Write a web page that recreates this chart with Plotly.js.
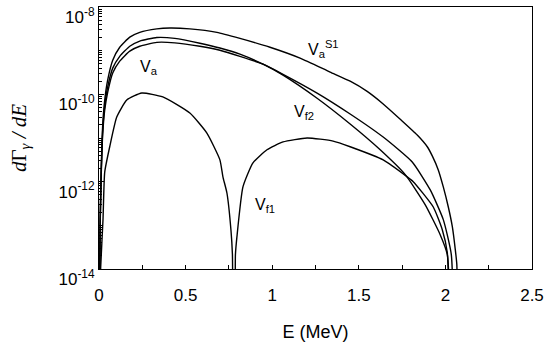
<!DOCTYPE html>
<html>
<head>
<meta charset="utf-8">
<script src="https://cdn.plot.ly/plotly-3.0.1.min.js"></script>
<style>html,body{margin:0;padding:0;background:#fff;}#chart{width:545px;height:342px;}</style>
</head>
<body>
<div id="chart"></div>
<script>
// Photon energy E (MeV) and dGamma/dE values
const E_VaS1 = [0.002,0.0069,0.0127,0.0214,0.033,0.0503,0.0792,0.1197,0.1776,0.2354,0.3337,0.4089,0.5246,0.6808,0.8138,0.9873,1.1608,1.3343,1.45,1.5483,1.6408,1.7392,1.8375,1.8953,1.9242,1.9589,1.9879,2.0168,2.04,2.0573,2.066,2.072];
const G_VaS1 = [1e-15,1.35e-13,1.86e-12,2.0e-11,7.41e-11,2.14e-10,6.03e-10,1.2e-9,2.04e-9,2.63e-9,3.16e-9,3.31e-9,3.16e-9,2.63e-9,1.91e-9,1.2e-9,6.76e-10,3.24e-10,2.0e-10,1.17e-10,6.03e-11,2.69e-11,1.17e-11,6.31e-12,3.89e-12,1.86e-12,7.59e-13,2.63e-13,9.3e-14,2.75e-14,1.26e-14,1e-16];

const E_Va = [0.002,0.0069,0.0127,0.0214,0.033,0.0503,0.0792,0.1197,0.1776,0.2354,0.3337,0.4378,0.5824,0.6981,0.8138,0.9468,1.0625,1.2591,1.45,1.6235,1.7681,1.8838,1.9705,2.011,2.0313];
const G_Va = [1e-15,1.2e-13,1.58e-12,1.51e-11,5.37e-11,1.48e-10,3.98e-10,7.41e-10,1.26e-9,1.66e-9,2.0e-9,1.91e-9,1.48e-9,1.15e-9,8.32e-10,4.9e-10,2.75e-10,8.13e-11,2.09e-11,5.37e-12,1.45e-12,2.95e-13,6.03e-14,2.14e-14,1e-16];

const E_Vf2 = [0.002,0.0069,0.0127,0.0214,0.033,0.0503,0.0792,0.1197,0.1776,0.2354,0.3337,0.4378,0.5824,0.6981,0.8138,0.9468,1.0625,1.2591,1.45,1.6408,1.8085,1.9126,1.9878,2.0341,2.0486];
const G_Vf2 = [1e-15,1.1e-13,1.35e-12,1.23e-11,4.37e-11,1.12e-10,3.09e-10,5.75e-10,9.77e-10,1.26e-9,1.55e-9,1.51e-9,1.26e-9,1.02e-9,7.41e-10,4.9e-10,2.88e-10,1.07e-10,3.55e-11,1.05e-11,2.82e-12,6.46e-13,1.35e-13,2.14e-14,1e-16];

const E_Vf1 = [0.003,0.0098,0.0231,0.033,0.0619,0.1024,0.1602,0.247,0.3684,0.5246,0.6229,0.6981,0.7155,0.7386,0.7617,0.7704,0.778,0.782,0.7877,0.7964,0.8311,0.8889,0.97,1.0625,1.2013,1.3517,1.45,1.6408,1.7796,1.8143,1.93,1.982,2.011,2.0255];
const G_Vf1 = [1e-15,1.12e-14,1.35e-13,1.66e-12,6.31e-12,3.02e-11,7.41e-11,1.07e-10,8.71e-11,3.72e-11,1.29e-11,3.16e-12,1.29e-12,5.5e-13,7.94e-14,2.14e-14,1e-16,1e-16,2.14e-14,5.5e-14,7.59e-13,2.69e-12,5.37e-12,8.13e-12,1.0e-11,8.51e-12,6.31e-12,3.16e-12,1.29e-12,1.0e-12,2.63e-13,7.94e-14,2.34e-14,1e-16];

// Axis ticks
const yTickVals = [1e-14,1e-12,1e-10,1e-8];
const yTickText = ['10<sup>-14</sup>','10<sup>-12</sup>','10<sup>-10</sup>','10<sup>-8</sup>'];
const yMinorVals = [];
[-14,-13,-12,-11,-10,-9].forEach(k => { for (let m = (k % 2 === 0 ? 2 : 1); m <= 9; m++) yMinorVals.push(m * Math.pow(10, k)); });

// Curve labels: [x (MeV), log10 y, text]
const labels = [
  [0.2244, -9.378, 'V<sub>a</sub>'],
  [1.1955, -8.966, 'V<sub>a</sub><sup>S1</sup>'],
  [1.1145, -10.406, 'V<sub>f2</sub>'],
  [0.889, -12.553, 'V<sub>f1</sub>']
];

const lineStyle = {color: '#000', width: 1.4, shape: 'spline', smoothing: 0.5};
const traces = [
  {x: E_VaS1, y: G_VaS1},
  {x: E_Va, y: G_Va},
  {x: E_Vf2, y: G_Vf2},
  {x: E_Vf1, y: G_Vf1}
].map(t => Object.assign(t, {type: 'scatter', mode: 'lines', line: lineStyle, hoverinfo: 'skip', showlegend: false, cliponaxis: true}));

const font = {family: 'Liberation Sans, Arial, sans-serif', size: 17, color: '#000'};

const layout = {
  width: 545, height: 342,
  margin: {l: 99, r: 13, t: 7, b: 73},
  paper_bgcolor: '#fff', plot_bgcolor: '#fff',
  font: font,
  showlegend: false,
  xaxis: {
    range: [0, 2.5], tickmode: 'linear', tick0: 0, dtick: 0.5,
    ticks: 'inside', ticklen: 4, tickwidth: 1, tickcolor: '#000',
    minor: {dtick: 0.25, ticks: 'inside', ticklen: 4, tickwidth: 1, tickcolor: '#000', showgrid: false},
    showline: true, linecolor: '#000', linewidth: 1, mirror: true,
    showgrid: false, zeroline: false,
    ticklabelstandoff: 11,
    tickfont: font,
    title: {text: 'E (MeV)', font: {family: 'Liberation Sans, Arial, sans-serif', size: 18, color: '#000'}, standoff: 20}
  },
  yaxis: {
    type: 'log', range: [-14, -8],
    tickmode: 'array', tickvals: yTickVals, ticktext: yTickText,
    ticks: 'inside', ticklen: 5, tickwidth: 1, tickcolor: '#000',
    minor: {tickmode: 'array', tickvals: yMinorVals, ticks: 'inside', ticklen: 3, tickwidth: 1, tickcolor: '#000', showgrid: false},
    showline: true, linecolor: '#000', linewidth: 1, mirror: true,
    showgrid: false, zeroline: false,
    ticklabelshift: 10,
    ticklabeloverflow: 'allow',
    tickfont: font,
    title: {text: '<i>d</i>Γ<sub><i>γ</i></sub><i> / dE</i>', font: {family: 'Liberation Serif, Times New Roman, serif', size: 21, color: '#000'}, standoff: 26}
  },
  annotations: labels.map(l => ({
    x: l[0], y: l[1], xref: 'x', yref: 'y', text: l[2], showarrow: false,
    xanchor: 'left', yanchor: 'middle', font: {family: 'Liberation Sans, Arial, sans-serif', size: 16, color: '#000'}
  }))
};

Plotly.newPlot('chart', traces, layout, {staticPlot: true, displayModeBar: false});
</script>
</body>
</html>
